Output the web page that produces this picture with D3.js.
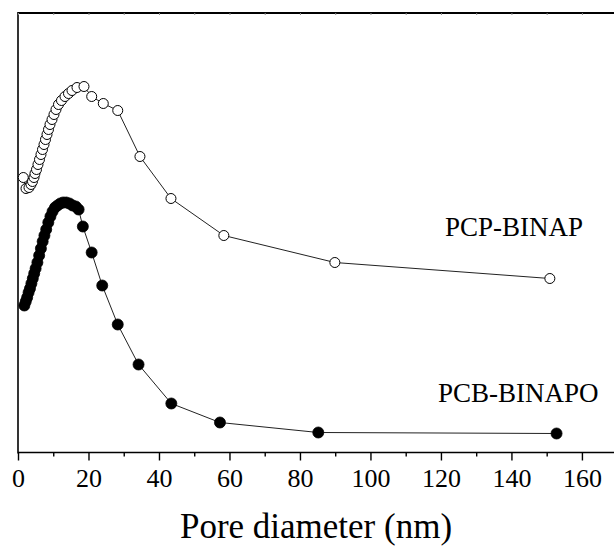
<!DOCTYPE html>
<html><head><meta charset="utf-8">
<script src="https://cdn.jsdelivr.net/npm/d3@7"></script>
<style>html,body{margin:0;padding:0;background:#fff;}svg{display:block;}</style>
</head><body>
<svg id="c" width="614" height="549"></svg>
<script>
// PCP-BINAP (open circles): pore diameter (nm) and relative pore volume (a.u.)
const openX = [1.50,2.27,3.12,3.69,4.11,4.54,4.82,5.25,5.67,6.10,6.52,6.95,7.38,7.80,8.23,8.65,9.08,9.65,10.21,10.78,11.49,12.34,13.33,14.33,15.32,16.74,18.72,20.91,24.2,28.3,34.6,43.4,58.4,89.9,150.9];
const openY = [2.75,2.64,2.65,2.68,2.71,2.75,2.79,2.83,2.88,2.93,2.98,3.03,3.08,3.13,3.18,3.23,3.28,3.33,3.38,3.43,3.48,3.52,3.56,3.59,3.62,3.65,3.66,3.56,3.49,3.42,2.96,2.54,2.17,1.90,1.74];
// PCB-BINAPO (filled circles)
const fillX = [1.8,2.2,2.6,3.0,3.4,3.8,4.2,4.6,5.0,5.5,6.0,6.5,7.0,7.5,8.0,8.6,9.2,9.8,10.5,11.2,12.0,12.8,13.7,14.6,15.5,16.4,17.2,18.4,20.9,23.9,28.3,34.2,43.5,57.3,85.2,152.8];
const fillY = [1.47,1.51,1.55,1.60,1.64,1.69,1.74,1.79,1.84,1.90,1.97,2.04,2.11,2.17,2.23,2.30,2.36,2.41,2.45,2.47,2.49,2.50,2.50,2.49,2.47,2.46,2.43,2.26,2.00,1.67,1.28,0.88,0.49,0.30,0.20,0.19];
const majorTicks = [0,20,40,60,80,100,120,140,160];
const minorTicks = [10,30,50,70,90,110,130,150];
const seriesLabels = ["PCP-BINAP","PCB-BINAPO"];
const xTitle = "Pore diameter (nm)";

const svg = d3.select("#c");
const font = "Liberation Serif";
const L = 18, R = 614, T = 13, B = 452.5;
const x = d3.scaleLinear().domain([0, 169.1]).range([L, R]);
const y = d3.scaleLinear().domain([0, 4.395]).range([B, T]);

// axes frame
svg.append("line").attr("x1",L).attr("x2",R).attr("y1",T).attr("y2",T).attr("stroke","#000").attr("stroke-width",2);
svg.append("line").attr("x1",L).attr("x2",L).attr("y1",T-1).attr("y2",B+1).attr("stroke","#000").attr("stroke-width",1.6);

// bottom axis
const xAxis = d3.axisBottom(x).tickValues(majorTicks).tickSize(8).tickPadding(8).tickFormat(d3.format("d"));
const gx = svg.append("g").attr("transform",`translate(0,${B})`).call(xAxis);
gx.attr("font-family",font).attr("font-size",26);
gx.select(".domain").attr("stroke-width",1.6).attr("d",`M${L},0H${R}`);
gx.selectAll(".tick line").attr("stroke-width",1.4);
gx.selectAll(".tick text").style("font-family",font).style("font-size","26px").attr("fill","#000");
const gm = svg.append("g").attr("transform",`translate(0,${B})`).call(d3.axisBottom(x).tickValues(minorTicks).tickSize(4).tickFormat(""));
gm.select(".domain").remove();
gm.selectAll(".tick line").attr("stroke-width",1.4);
// top axis tiny inward ticks
const gt = svg.append("g").attr("transform",`translate(0,${T})`).call(d3.axisBottom(x).tickValues(majorTicks.concat(minorTicks)).tickSize(2).tickFormat(""));
gt.select(".domain").remove();
gt.selectAll(".tick line").attr("stroke","#888").attr("stroke-width",1);

// series
const line = d3.line().x(d=>x(d[0])).y(d=>y(d[1]));
const openData = openX.map((v,i)=>[v,openY[i]]);
const fillData = fillX.map((v,i)=>[v,fillY[i]]);
svg.append("path").datum(openData).attr("d",line).attr("fill","none").attr("stroke","#222").attr("stroke-width",1);
svg.append("path").datum(fillData).attr("d",line).attr("fill","none").attr("stroke","#222").attr("stroke-width",1);
svg.append("g").selectAll("circle").data(fillData).join("circle")
  .attr("cx",d=>x(d[0])).attr("cy",d=>y(d[1])).attr("r",5.5).attr("fill","#000").attr("stroke","#000").attr("stroke-width",0.8);
svg.append("g").selectAll("circle").data(openData).join("circle")
  .attr("cx",d=>x(d[0])).attr("cy",d=>y(d[1])).attr("r",5).attr("fill","#fff").attr("stroke","#000").attr("stroke-width",1);

// labels
svg.append("text").attr("x",445).attr("y",236).style("font-family",font).style("font-size","27px").text(seriesLabels[0]);
svg.append("text").attr("x",438).attr("y",402).style("font-family",font).style("font-size","27px").text(seriesLabels[1]);
svg.append("text").attr("x",316).attr("y",538).attr("text-anchor","middle").style("font-family",font).style("font-size","35px").text(xTitle);
</script>
</body></html>
